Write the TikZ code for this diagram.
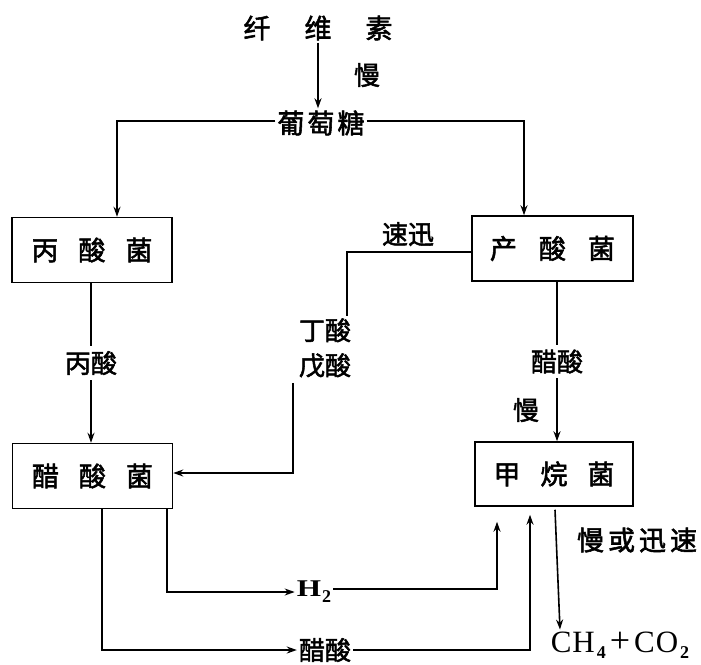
\documentclass[tikz,border=0pt]{standalone}
\usepackage{fontspec}
\setmainfont{Liberation Serif}
\newfontfamily\cjk{Noto Sans CJK SC}[FakeBold=2]
\usetikzlibrary{arrows.meta,calc}
\begin{document}
\begin{tikzpicture}[x=1pt,y=-1pt,
  box/.style={draw, line width=1.5pt, minimum width=160pt, minimum height=65pt, inner sep=0pt, font=\cjk\fontsize{27}{27}\selectfont},
  lbl/.style={inner sep=2pt, font=\cjk\fontsize{26}{26}\selectfont},
  big/.style={inner sep=2pt, font=\cjk\fontsize{27}{27}\selectfont},
  ln/.style={line width=1.6pt},
  arr/.style={ln, -{Stealth[length=10pt,width=7pt]}},
  cut/.style={lbl, fill=white, inner sep=5pt}
]
\useasboundingbox (0,0) rectangle (701,664);
% text nodes
\node[big] (xw) at (318,28) {纤\hspace{34pt}维\hspace{34pt}素};
\node[lbl] (man1) at (367,75) {慢};
\node[big] (pu) at (321,123) {葡\hspace{3pt}萄\hspace{3pt}糖};
% boxes
\node[box] (bing) at (92,250) {丙\hspace{20pt}酸\hspace{20pt}菌};
\node[box, minimum width=161pt] (chan) at (552.5,248.5) {产\hspace{22pt}酸\hspace{22pt}菌};
\node[box] (cu) at (92.5,476) {醋\hspace{20pt}酸\hspace{20pt}菌};
\node[box, minimum width=158pt, minimum height=64pt] (jia) at (554,474) {甲\hspace{20pt}烷\hspace{20pt}菌};
% labels
\node[lbl] (sx) at (408,234) {速迅};
\node[lbl, align=center, font=\cjk\fontsize{26}{35}\selectfont] (dw) at (325,348) {丁酸\\戊酸};
\node[lbl] (man2) at (526,410) {慢};
\node[inner sep=2pt, font=\cjk\fontsize{27}{27}\selectfont] (mh) at (637,540) {慢\hspace{4pt}或\hspace{4pt}迅\hspace{4pt}速};
\node[inner sep=2pt, font=\bfseries\fontsize{24}{24}\selectfont] (h2) at (314,592) {\scalebox{1.3}[1]{H}\hspace{1pt}\raisebox{-6pt}{\fontsize{18}{18}\selectfont 2}};
\node[lbl] (cs) at (325,650) {醋酸};
\node[inner sep=2pt, font=\fontsize{31}{31}\selectfont] (ch) at (620,645)
  {C\hspace{1pt}H\hspace{2pt}\raisebox{-6pt}{\fontsize{18}{18}\selectfont\bfseries 4}\hspace{4pt}{\fontsize{36}{36}\selectfont +}\hspace{4pt}C\hspace{1pt}O\hspace{2pt}\raisebox{-6pt}{\fontsize{18}{18}\selectfont\bfseries 2}};
% connectors
\draw[arr] (xw.south) -- (xw.south |- pu.north);
\draw[arr] ([yshift=2pt]pu.west) -| ([xshift=25pt]bing.north);
\draw[arr] ([yshift=2pt]pu.east) -| ([xshift=-28.5pt]chan.north);
\draw[arr] ([xshift=-1pt]bing.south) -- node[cut] (bs) {丙酸} ([xshift=-1.5pt]cu.north);
\draw[arr] ([xshift=4.5pt]chan.south) -- node[cut] (cs1) {醋酸} ([xshift=3pt]jia.north);
\draw[ln] ([yshift=-3.5pt]chan.west) -| ([xshift=-6pt]dw.north east);
\draw[arr] ([xshift=-4pt,yshift=-3pt]dw.south west) |- ([yshift=3pt]cu.east);
\draw[arr] ([xshift=74.5pt]cu.south) |- (h2.west);
\draw[arr, shorten >=15pt] ([yshift=3pt]h2.east) -| ([xshift=-57pt]jia.south);
\draw[arr] ([xshift=9.5pt]cu.south) |- (cs.west);
\draw[arr, shorten >=8pt] (cs.east) -| ([xshift=-24pt]jia.south);
\draw[arr] ([xshift=1pt,yshift=-3pt]jia.south) -- ([xshift=-60pt]ch.north);
\end{tikzpicture}
\end{document}
